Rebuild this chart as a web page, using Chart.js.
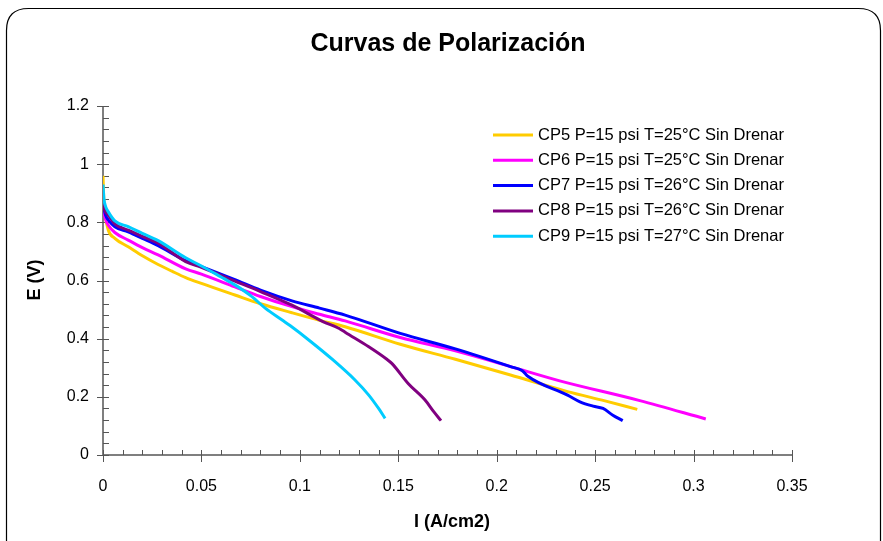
<!DOCTYPE html>
<html>
<head>
<meta charset="utf-8">
<script src="https://cdn.jsdelivr.net/npm/chart.js@4.4.0/dist/chart.umd.min.js"></script>
<style>
  html, body { margin: 0; padding: 0; background: #fff; }
  #wrap { width: 883px; height: 541px; }
</style>
</head>
<body>
<div id="wrap"><canvas id="polChart" width="883" height="541"></canvas></div>
<script>
// Polarization curves: current density I (A/cm2) vs cell voltage E (V)
const cp5I = [0, 0.0004, 0.001, 0.0027, 0.006, 0.0128, 0.02, 0.028, 0.035, 0.042, 0.05, 0.067, 0.08, 0.096, 0.11, 0.123, 0.151, 0.179, 0.207, 0.236, 0.255, 0.2714];
const cp5E = [0.96, 0.88, 0.83, 0.773, 0.745, 0.716, 0.685, 0.655, 0.632, 0.61, 0.59, 0.55, 0.52, 0.489, 0.463, 0.441, 0.381, 0.329, 0.275, 0.218, 0.186, 0.157];

const cp6I = [0, 0.0005, 0.0013, 0.0027, 0.006, 0.0128, 0.02, 0.028, 0.042, 0.05, 0.067, 0.08, 0.096, 0.11, 0.123, 0.151, 0.179, 0.207, 0.232, 0.2727, 0.3062];
const cp6E = [0.86, 0.835, 0.81, 0.79, 0.765, 0.739, 0.713, 0.688, 0.64, 0.622, 0.578, 0.545, 0.51, 0.484, 0.461, 0.404, 0.358, 0.304, 0.255, 0.187, 0.124];

const cp7I = [0, 0.0005, 0.0013, 0.0027, 0.006, 0.0128, 0.02, 0.028, 0.042, 0.05, 0.067, 0.08, 0.096, 0.11, 0.123, 0.151, 0.179, 0.207, 0.213, 0.216, 0.236, 0.2423, 0.249, 0.254, 0.259, 0.264];
const cp7E = [0.88, 0.85, 0.825, 0.808, 0.785, 0.767, 0.745, 0.72, 0.668, 0.648, 0.603, 0.567, 0.53, 0.505, 0.481, 0.418, 0.365, 0.304, 0.29, 0.27, 0.206, 0.183, 0.168, 0.16, 0.137, 0.118];

const cp8I = [0, 0.0005, 0.0013, 0.0027, 0.006, 0.0128, 0.02, 0.028, 0.042, 0.05, 0.067, 0.08, 0.096, 0.112, 0.12, 0.123, 0.135, 0.144, 0.1467, 0.155, 0.1636, 0.168, 0.1717];
const cp8E = [0.87, 0.85, 0.835, 0.825, 0.795, 0.773, 0.752, 0.728, 0.665, 0.645, 0.598, 0.562, 0.515, 0.458, 0.435, 0.422, 0.372, 0.33, 0.315, 0.246, 0.189, 0.149, 0.118];

const cp9I = [0, 0.0005, 0.0013, 0.0027, 0.006, 0.0128, 0.02, 0.028, 0.042, 0.05, 0.06, 0.067, 0.075, 0.0824, 0.091, 0.095, 0.105, 0.117, 0.128, 0.135, 0.14, 0.1433];
const cp9E = [0.93, 0.88, 0.855, 0.836, 0.805, 0.785, 0.762, 0.737, 0.678, 0.65, 0.612, 0.585, 0.548, 0.505, 0.464, 0.445, 0.393, 0.326, 0.258, 0.206, 0.16, 0.126];

const seriesLabels = [
  'CP5 P=15 psi T=25°C Sin Drenar',
  'CP6 P=15 psi T=25°C Sin Drenar',
  'CP7 P=15 psi T=26°C Sin Drenar',
  'CP8 P=15 psi T=26°C Sin Drenar',
  'CP9 P=15 psi T=27°C Sin Drenar'
];
const seriesColors = ['#FFCC00', '#FF00FF', '#0000FF', '#800080', '#00CCFF'];

const xTicks = [0, 0.05, 0.1, 0.15, 0.2, 0.25, 0.3, 0.35];
const yTicks = [0, 0.2, 0.4, 0.6, 0.8, 1, 1.2];
const xMinorStep = 0.01;
const yMinorStep = 0.04;

const FONT = '"Liberation Sans", Arial, sans-serif';

function toPoints(xs, ys) {
  return xs.map((x, i) => ({ x: x, y: ys[i] }));
}

const allSeries = [[cp5I, cp5E], [cp6I, cp6E], [cp7I, cp7E], [cp8I, cp8E], [cp9I, cp9E]];

const datasets = allSeries.map((s, i) => ({
  label: seriesLabels[i],
  data: toPoints(s[0], s[1]),
  borderColor: seriesColors[i],
  backgroundColor: seriesColors[i],
  borderWidth: 3,
  pointRadius: 0,
  showLine: true,
  cubicInterpolationMode: 'monotone',
  order: allSeries.length - 1 - i
}));

// Frame, title, axis lines, tick marks and the inset legend
const decorations = {
  id: 'decorations',
  beforeDraw(chart) {
    const ctx = chart.ctx;
    ctx.save();
    ctx.fillStyle = '#fff';
    ctx.fillRect(0, 0, chart.width, chart.height);
    // rounded outer border
    const x0 = 6.5, y0 = 8.5, x1 = 880.5, y1 = 560, r = 22;
    ctx.beginPath();
    ctx.moveTo(x0 + r, y0);
    ctx.lineTo(x1 - r, y0);
    ctx.quadraticCurveTo(x1, y0, x1, y0 + r);
    ctx.lineTo(x1, y1);
    ctx.lineTo(x0, y1);
    ctx.lineTo(x0, y0 + r);
    ctx.quadraticCurveTo(x0, y0, x0 + r, y0);
    ctx.strokeStyle = '#000';
    ctx.lineWidth = 1.2;
    ctx.stroke();

    // title
    ctx.fillStyle = '#000';
    ctx.font = 'bold 25px ' + FONT;
    ctx.textAlign = 'center';
    ctx.textBaseline = 'middle';
    ctx.fillText('Curvas de Polarización', 448, 44);

    // axis titles
    ctx.font = 'bold 18px ' + FONT;
    ctx.fillText('I (A/cm2)', 452, 522);
    ctx.save();
    ctx.translate(35, 280);
    ctx.rotate(-Math.PI / 2);
    ctx.fillText('E (V)', 0, 0);
    ctx.restore();
    ctx.restore();
  },
  beforeDatasetsDraw(chart) {
    const ctx = chart.ctx;
    const xs = chart.scales.x, ys = chart.scales.y;
    const left = xs.left, bottom = ys.bottom;
    ctx.save();
    ctx.strokeStyle = '#555';
    ctx.lineWidth = 1.5;
    ctx.beginPath();
    ctx.moveTo(left, ys.top);
    ctx.lineTo(left, bottom);
    ctx.lineTo(xs.right, bottom);
    ctx.stroke();

    ctx.lineWidth = 1;
    ctx.beginPath();
    // x minor ticks (inside) and major ticks (crossing)
    for (let v = 0; v <= xs.max + 1e-9; v += xMinorStep) {
      const px = Math.round(xs.getPixelForValue(v)) + 0.5;
      ctx.moveTo(px, bottom - 5);
      ctx.lineTo(px, bottom);
    }
    xTicks.forEach(v => {
      const px = Math.round(xs.getPixelForValue(v)) + 0.5;
      ctx.moveTo(px, bottom - 5);
      ctx.lineTo(px, bottom + 7);
    });
    for (let v = 0; v <= ys.max + 1e-9; v += yMinorStep) {
      const py = Math.round(ys.getPixelForValue(v)) + 0.5;
      ctx.moveTo(left, py);
      ctx.lineTo(left + 6, py);
    }
    yTicks.forEach(v => {
      const py = Math.round(ys.getPixelForValue(v)) + 0.5;
      ctx.moveTo(left - 6, py);
      ctx.lineTo(left + 6, py);
    });
    ctx.stroke();
    ctx.restore();
  },
  afterDraw(chart) {
    const ctx = chart.ctx;
    ctx.save();
    ctx.font = '16.5px ' + FONT;
    ctx.textAlign = 'left';
    ctx.textBaseline = 'middle';
    chart.data.datasets.forEach((ds, i) => {
      const y = 135 + i * 25.3;
      ctx.strokeStyle = ds.borderColor;
      ctx.lineWidth = 3;
      ctx.beginPath();
      ctx.moveTo(493, y);
      ctx.lineTo(533, y);
      ctx.stroke();
      ctx.fillStyle = '#000';
      ctx.fillText(ds.label, 538, y);
    });
    ctx.restore();
  }
};

new Chart(document.getElementById('polChart'), {
  type: 'scatter',
  data: { datasets: datasets },
  plugins: [decorations],
  options: {
    responsive: false,
    animation: false,
    devicePixelRatio: 1,
    layout: { padding: { top: 106, right: 91, left: 0, bottom: 0 } },
    plugins: {
      legend: { display: false },
      title: { display: false },
      tooltip: { enabled: false }
    },
    scales: {
      x: {
        type: 'linear',
        min: 0,
        max: 0.35,
        afterFit(scale) { scale.height = 86; },
        afterBuildTicks(scale) { scale.ticks = xTicks.map(v => ({ value: v })); },
        grid: { display: false },
        border: { display: false },
        ticks: {
          color: '#000',
          font: { family: FONT, size: 16 },
          padding: 14,
          maxRotation: 0,
          callback: v => String(Number(v.toFixed(2)))
        }
      },
      y: {
        type: 'linear',
        min: 0,
        max: 1.2,
        afterFit(scale) { scale.width = 103; },
        afterBuildTicks(scale) { scale.ticks = yTicks.map(v => ({ value: v })); },
        grid: { display: false },
        border: { display: false },
        ticks: {
          color: '#000',
          font: { family: FONT, size: 16 },
          padding: 6,
          callback: v => String(Number(v.toFixed(1)))
        }
      }
    }
  }
});
</script>
</body>
</html>
